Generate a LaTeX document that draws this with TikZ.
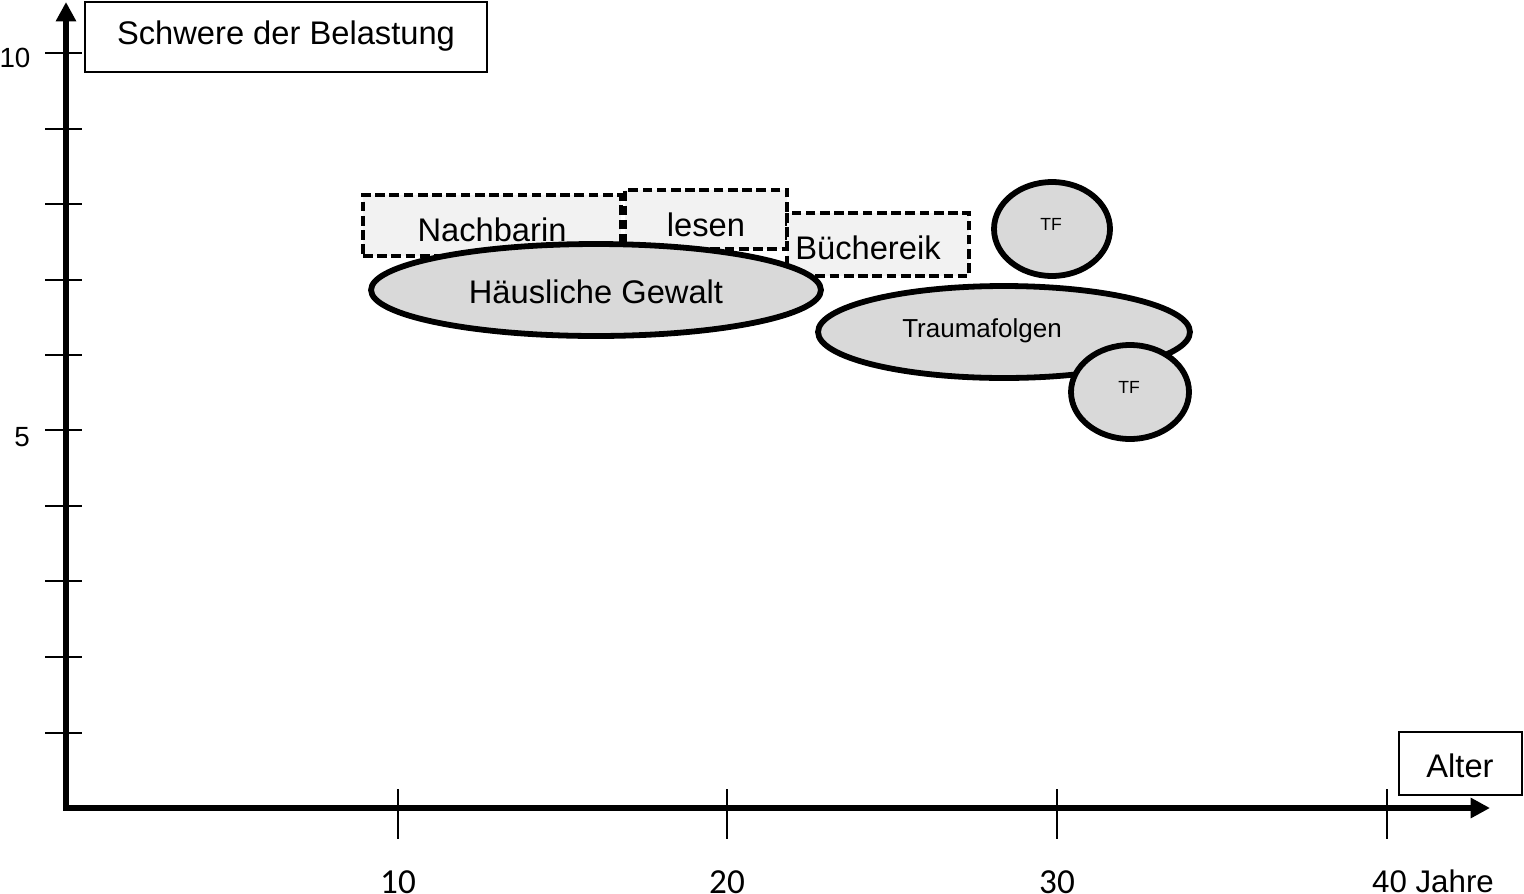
\documentclass[tikz,border=0pt]{standalone}
\usepackage{fontspec}
\setmainfont{Liberation Sans}
\newfontfamily\calib{Carlito}
\usetikzlibrary{shapes.geometric,arrows.meta}
\definecolor{ellgray}{HTML}{D9D9D9}
\definecolor{boxgray}{HTML}{F2F2F2}
\begin{document}
\begin{tikzpicture}[x=0.02cm,y=-0.02cm,
  axis/.style={line width=3.2pt,line join=miter},
  tickline/.style={line width=1.1pt},
  lblbox/.style={draw,line width=1.1pt,fill=white,inner sep=0pt},
  dbox/.style={draw,line width=2pt,dash pattern=on 5.5pt off 2.6pt,fill=boxgray,inner sep=0pt},
  ell/.style={ellipse,draw,line width=3.3pt,fill=ellgray,inner sep=0pt},
  bigtxt/.style={font=\fontsize{18.6}{20}\selectfont,inner sep=0pt},
  midtxt/.style={font=\fontsize{14.8}{16}\selectfont,inner sep=0pt},
  smalltxt/.style={font=\fontsize{10}{12}\selectfont,inner sep=0pt},
  ylab/.style={font=\fontsize{15.8}{17}\selectfont,inner sep=0pt},
  xlab/.style={font=\calib\fontsize{20}{22}\selectfont,inner sep=0pt},
  arrowtip/.style={Triangle[width=11pt,length=11pt]}
]
\useasboundingbox (0,0) rectangle (1524,893);

% axes
\coordinate (O) at (66,808);
\coordinate (ytop) at (66,2);
\coordinate (xend) at (1490,808);
\draw[axis,{Triangle[width=11pt,length=11pt]}-{Triangle[width=11pt,length=11pt]}] (ytop) -- (O) -- (xend);

% y ticks
\foreach \yy in {53,129,204,280,355,430,506,581,657,733}
  \draw[tickline] (45,\yy) -- (82,\yy);
% x ticks
\foreach \xx in {398,727,1057,1387}
  \draw[tickline] (\xx,789) -- (\xx,839);

% tick labels
\node[ylab] (y10) at (15,58) {10};
\node[ylab] (y5) at (22,437) {5};
\node[xlab] (x10) at (398,882) {10};
\node[xlab] (x20) at (727,882) {20};
\node[xlab] (x30) at (1057,882) {30};
\node[bigtxt,font=\fontsize{17.8}{19}\selectfont] (x40) at (1433,881) {40 Jahre};

% axis title boxes
\node[lblbox,minimum width=8.04cm,minimum height=1.4cm] (ybox) at (286,37) {};
\node[bigtxt] (ytitle) at (286,36) {Schwere der Belastung};
\node[lblbox,minimum width=2.46cm,minimum height=1.26cm] (xbox) at (1460.5,763.5) {};
\node[bigtxt] (xtitle) at (1460,766) {Alter};

% dashed boxes
\node[dbox,minimum width=5.16cm,minimum height=1.22cm] (nach) at (492,225.5) {};
\node[bigtxt] (nachT) at (492,230) {Nachbarin};
\node[dbox,minimum width=3.24cm,minimum height=1.18cm] (les) at (706,219.5) {};
\node[bigtxt] (lesT) at (706,225) {lesen};
\node[dbox,minimum width=3.64cm,minimum height=1.26cm] (buch) at (878,244.5) {};
\node[bigtxt] (buchT) at (868,248) {Büchereik};

% ellipses
\node[ell,minimum width=9.0cm,minimum height=1.84cm] (hg) at (596,290) {};
\node[bigtxt] (hgT) at (596,292) {Häusliche Gewalt};
\node[ell,minimum width=7.44cm,minimum height=1.84cm] (tr) at (1004,332) {};
\node[midtxt] (trT) at (982,331) {Traumafolgen};
\node[ell,minimum width=2.32cm,minimum height=1.88cm] (tf1) at (1052,229) {};
\node[smalltxt] (tf1T) at (1051,224) {TF};
\node[ell,minimum width=2.36cm,minimum height=1.88cm] (tf2) at (1130,392) {};
\node[smalltxt] (tf2T) at (1129,387) {TF};
\end{tikzpicture}
\end{document}
